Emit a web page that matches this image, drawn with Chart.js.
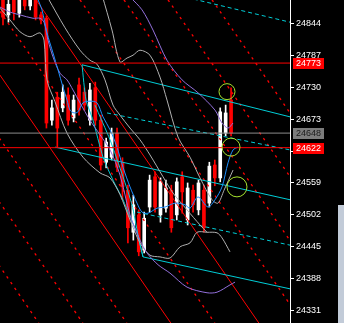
<!DOCTYPE html>
<html><head><meta charset="utf-8">
<script src="https://cdn.jsdelivr.net/npm/chart.js@4.4.1/dist/chart.umd.min.js"></script>
<style>html,body{margin:0;padding:0;background:#000;overflow:hidden}canvas{display:block}</style>
</head><body>
<canvas id="c" width="344" height="323"></canvas>
<script>
// ---- candles (bar index 0..42) ----
const opens  = [24900,24859,24894,24862,24891,24875,24896,24859,24853,24671,24712,24693,24716,24675,24734,24721,24671,24729,24671,24596,24605,24648,24595,24546,24471,24502,24439,24516,24570,24502,24514,24546,24502,24570,24493,24546,24511,24546,24523,24591,24568,24648,24707];
const closes = [24855,24878,24864,24886,24875,24889,24855,24850,24666,24693,24657,24721,24671,24707,24689,24698,24725,24671,24591,24632,24648,24587,24552,24479,24520,24436,24496,24564,24516,24561,24550,24479,24561,24543,24550,24520,24559,24479,24589,24568,24686,24684,24648];
const highs  = [24903,24886,24900,24894,24900,24900,24900,24864,24857,24707,24721,24734,24729,24716,24746,24729,24737,24739,24680,24639,24657,24657,24604,24555,24537,24511,24507,24573,24579,24568,24564,24555,24568,24579,24559,24555,24564,24555,24596,24600,24693,24698,24729];
const lows   = [24841,24846,24850,24855,24868,24868,24850,24843,24657,24662,24623,24686,24662,24668,24680,24689,24662,24662,24582,24586,24600,24579,24529,24452,24457,24429,24434,24507,24507,24489,24507,24471,24493,24505,24484,24507,24502,24471,24516,24554,24561,24643,24643];

// ---- axis ----
const yTicks = [24331,24388,24445,24502,24559,24616,24673,24730,24787,24844];
const yMin = 24309, yMax = 24885.6;
const xMin = -0.5525, xMax = 52.85;

// ---- indicator curves [barIndex, price] ----
const greyUpper = [[18.23,24895],[20.07,24832],[21.55,24775],[22.84,24782],[23.94,24787],[25.23,24796],[27.07,24787],[28.91,24748],[30.20,24707],[32.23,24641],[34.44,24605],[36.28,24568],[38.49,24529],[39.59,24523],[40.70,24546],[42.36,24582]];
const greyMid = [[8.29,24889],[11.42,24836],[14.18,24796],[16.02,24778],[17.31,24771],[18.78,24743],[20.26,24698],[21.55,24680],[23.39,24657],[25.23,24636],[27.07,24609],[29.47,24570],[31.31,24541],[33.89,24511],[36.28,24484],[37.57,24471]];
const greyLower = [[-0.55,24871],[1.29,24850],[3.13,24829],[4.97,24820],[6.81,24827],[7.55,24814],[8.10,24743],[9.58,24704],[11.79,24648],[14.73,24605],[17.86,24577],[19.71,24568],[21.55,24538],[23.39,24493],[25.23,24452],[27.07,24430],[28.91,24427],[30.76,24425],[32.60,24445],[34.44,24452],[35.73,24471],[37.57,24471],[39.41,24470],[40.33,24461],[41.80,24436]];
const blueLine = [[6.45,24886],[7.18,24868],[8.10,24827],[9.21,24791],[10.13,24761],[11.05,24730],[11.79,24707],[12.34,24689],[13.08,24684],[13.81,24686],[14.73,24702],[16.02,24705],[17.31,24702],[18.42,24677],[19.71,24654],[20.99,24623],[22.10,24587],[23.39,24552],[24.68,24523],[25.60,24507],[26.70,24505],[28.36,24514],[29.83,24516],[31.68,24523],[33.52,24520],[34.44,24514],[35.91,24534],[37.75,24516],[39.04,24529],[40.33,24552],[41.44,24595],[42.36,24618],[43.28,24623]];
const purpleLower = [[-0.55,24873],[1.29,24864],[3.13,24859],[5.52,24853],[6.81,24853],[7.55,24846],[8.29,24814],[9.21,24784],[10.50,24755],[11.79,24743],[12.89,24725],[14.18,24702],[16.02,24671],[17.86,24645],[19.71,24618],[21.55,24573],[23.39,24502],[25.23,24457],[26.52,24434],[28.55,24413],[30.76,24398],[33.89,24373],[37.57,24363],[39.41,24364],[41.80,24377],[42.73,24382]];
const purpleUpper = [[23.39,24891],[25.60,24868],[27.62,24832],[30.20,24778],[32.97,24743],[35.91,24720],[39.04,24689],[40.33,24666],[41.44,24657],[42.36,24666]];

// ---- channel lines [barIndex, price] ----
const cyanSolid1 = [[14.55,24770],[52.85,24677]];
const cyanSolid2 = [[9.58,24623],[52.85,24529]];
const cyanSolid3 = [[25.78,24427],[52.85,24370]];
const cyanLink1 = [[14.55,24770],[15.29,24707],[16.57,24671],[18.42,24605],[20.26,24564],[22.10,24529],[23.39,24498],[24.68,24470],[25.78,24427]];
const cyanLink2 = [[16.94,24698],[19.71,24636],[22.10,24570],[23.76,24520],[24.86,24466],[25.78,24427]];
const cyanDash1 = [[32.60,24893],[52.85,24846]];
const cyanDash2 = [[19.15,24684],[52.85,24618]];
const cyanDash3 = [[24.68,24507],[52.85,24448]];

// ---- red diagonal trendlines ----
const diagTopIdx    = [-34.44,-26.34,-18.23,-10.13,-2.03,6.08,14.18,22.28,30.39,38.49];
const diagBottomIdx = [6.59,14.70,22.80,30.90,39.01,47.11,55.21,63.32,71.42,79.52];
const diagTopPrice = 24886, diagBottomPrice = 24309;
const diagSolid = [false,false,false,true,false,true,false,false,false,false];

// ---- horizontal levels & tags ----
const levelValues = [24773, 24648, 24622];
const tagValues = [24773, 24648, 24622];

// ---- marker circles ----
const circleX = [41.25, 41.99, 43.09];
const circleY = [24722, 24623, 24552];

const idx = opens.map((_, i) => i);
const candleColors = idx.map(i => closes[i] >= opens[i] ? '#ffffff' : '#ff0000');
const pts = a => a.map(p => ({x: p[0], y: p[1]}));
function lineDs(a, color, extra) {
  return Object.assign({type: 'line', data: pts(a), borderColor: color, borderWidth: 1,
    pointRadius: 0, fill: false, tension: 0}, extra || {});
}

const datasets = [];
datasets.push({type: 'bar', data: idx.map(i => ({x: i, y: [lows[i], highs[i]]})),
  backgroundColor: candleColors, barThickness: 1, grouped: false, order: 30, borderWidth: 0});
datasets.push({type: 'bar', data: idx.map(i => ({x: i, y: [opens[i], closes[i]]})),
  backgroundColor: candleColors, barThickness: 3, grouped: false, order: 29, borderWidth: 0, minBarLength: 1});

diagTopIdx.forEach((t, k) => {
  datasets.push(lineDs([[t, diagTopPrice], [diagBottomIdx[k], diagBottomPrice]], '#ff0000',
    {order: 20, borderWidth: diagSolid[k] ? 1 : 1.3, borderDash: diagSolid[k] ? [] : [2.5, 4.5]}));
});

[cyanSolid1, cyanSolid2, cyanSolid3].forEach(a => datasets.push(lineDs(a, '#00cdd6', {order: 15})));
[cyanLink1, cyanLink2].forEach(a => datasets.push(lineDs(a, '#00cdd6', {order: 15, tension: 0.2})));
[cyanDash1, cyanDash2, cyanDash3].forEach(a => datasets.push(lineDs(a, '#00cdd6', {order: 15, borderDash: [4, 3]})));

[greyUpper, greyMid, greyLower].forEach(a => datasets.push(lineDs(a, '#b0b0b0', {order: 12, tension: 0.3})));
[purpleLower, purpleUpper].forEach(a => datasets.push(lineDs(a, '#9370db', {order: 11, tension: 0.3})));
datasets.push(lineDs(blueLine, '#1e90ff', {order: 10, tension: 0.3}));

const levelColors = ['#ff0000', '#8c8c8c', '#ff0000'];
levelValues.forEach((v, k) => datasets.push(lineDs([[xMin, v], [xMax, v]], levelColors[k], {order: 5})));

datasets.push({type: 'line', data: circleX.map((x, i) => ({x, y: circleY[i]})), showLine: false,
  pointRadius: [8, 9, 10], pointStyle: 'circle', pointBackgroundColor: 'rgba(0,0,0,0)',
  pointBorderColor: '#a6e22e', pointBorderWidth: 1, order: 1});

const tagStyle = [{bg: '#ff0000', fg: '#ffffff'}, {bg: '#7c7c7c', fg: '#1a1a1a'}, {bg: '#ff0000', fg: '#ffffff'}];
const overlay = {
  id: 'overlay',
  afterDraw(chart) {
    const ctx = chart.ctx, ys = chart.scales.y;
    ctx.save();
    ctx.fillStyle = '#c2cbd8';
    ctx.fillRect(338, 205, 6, 118);
    ctx.font = '9px "Liberation Sans", Arial, sans-serif';
    ctx.textBaseline = 'middle';
    tagValues.forEach((v, k) => {
      const y = Math.round(ys.getPixelForValue(v));
      ctx.fillStyle = tagStyle[k].bg;
      ctx.fillRect(293, y - 5, 31, 11);
      ctx.fillStyle = tagStyle[k].fg;
      ctx.fillText(String(v), 296, y + 0.5);
    });
    ctx.restore();
  }
};

new Chart(document.getElementById('c'), {
  type: 'bar',
  data: {datasets},
  options: {
    responsive: false, animation: false, devicePixelRatio: 1,
    layout: {padding: 0, autoPadding: false},
    plugins: {legend: {display: false}, tooltip: {enabled: false}},
    scales: {
      x: {type: 'linear', min: xMin, max: xMax, display: false, offset: false, grid: {offset: false}},
      y: {
        position: 'right', min: yMin, max: yMax,
        afterBuildTicks: s => { s.ticks = yTicks.map(v => ({value: v})); },
        afterFit: s => { s.width = 54; s.paddingTop = 0; s.paddingBottom = 0; },
        grid: {drawOnChartArea: false, color: '#ffffff', tickLength: 4, tickWidth: 1},
        border: {display: true, color: '#ffffff', width: 1},
        ticks: {color: '#ffffff', font: {family: 'Liberation Sans', size: 9}, padding: 2,
          autoSkip: false, callback: v => String(v)}
      }
    }
  },
  plugins: [overlay]
});
</script>
</body></html>
